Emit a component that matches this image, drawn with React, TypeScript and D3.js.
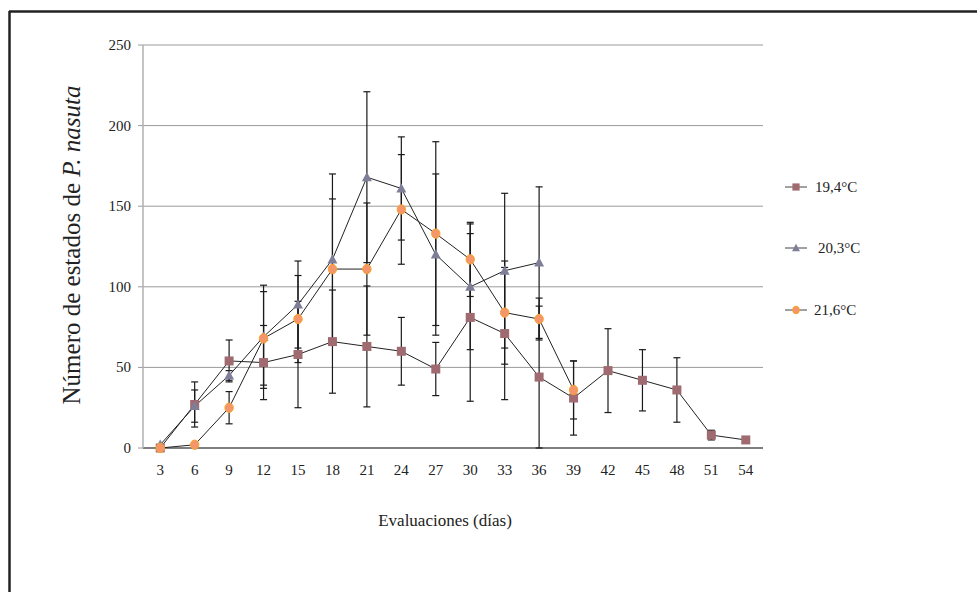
import React from "react";
import * as d3 from "d3";

const days = ["3","6","9","12","15","18","21","24","27","30","33","36","39","42","45","48","51","54"];
const s194 = [0,27,54,53,58,66,63,60,49,81,71,44,31,48,42,36,8,5];
const e194 = [0,14,13,23,33,32,37.5,21,16.5,52,41,44,23,26,19,20,3,1];
const s203 = [2,26,45,69,89,117,168,161,120,100,110,115];
const e203 = [0,10,3,32,27,53,53,32,50,39,48,47];
const s216 = [0,2,25,68,80,111,111,148,133,117,84,80,36];
const e216 = [0,0,10,29,27,43.5,41,34,57,23,32,13,18];
const yTicks = [0,50,100,150,200,250];
const seriesNames = ["19,4°C","20,3°C","21,6°C"];

const W = 977, H = 592;
const left = 143, right = 763, top = 45, bottom = 448;

export default function App() {
  const x = d3.scaleBand<string>().domain(days).range([left, right]).padding(0);
  const y = d3.scaleLinear().domain([0, 250]).range([bottom, top]);
  const cx = (i: number) => (x(days[i]) as number) + x.bandwidth() / 2;
  const line = d3.line<number>().x((_, i) => cx(i)).y(d => y(d));

  const series = [
    { vals: s194, errs: e194, kind: "square", fill: "#9f6a70", stroke: "#9f6a70" },
    { vals: s203, errs: e203, kind: "tri", fill: "#7e7e99", stroke: "#7e7e99" },
    { vals: s216, errs: e216, kind: "circle", fill: "#f5956a", stroke: "#f5a32a" },
  ];

  const marker = (kind: string, px: number, py: number, fill: string, stroke: string, key: string, sz = 1) => {
    if (kind === "square") return <rect key={key} x={px - 4.5 * sz} y={py - 4.5 * sz} width={9 * sz} height={9 * sz} fill={fill} />;
    if (kind === "tri") {
      const s = 5 * sz;
      return <path key={key} d={`M${px},${py - s * 1.05}L${px + s},${py + s * 0.8}L${px - s},${py + s * 0.8}Z`} fill={fill} />;
    }
    return <ellipse key={key} cx={px} cy={py} rx={4.2 * sz} ry={4.7 * sz} fill={fill} stroke={stroke} strokeWidth={1} />;
  };

  return (
    <svg width={W} height={H} style={{ display: "block", position: "absolute", left: 0, top: 0 }} fontFamily="'Liberation Serif', 'Times New Roman', serif">
      <rect x={0} y={0} width={W} height={H} fill="#fff" />
      {/* frame */}
      <line x1={9} y1={11.5} x2={W} y2={11.5} stroke="#222" strokeWidth={2.5} />
      <line x1={9.5} y1={11} x2={9.5} y2={H} stroke="#222" strokeWidth={2.5} />
      {/* grid */}
      {yTicks.map(t => (
        <g key={t}>
          <line x1={left} x2={right} y1={y(t)} y2={y(t)} stroke={t === 0 ? "#555" : "#9a9a9a"} strokeWidth={t === 0 ? 1.5 : 1} />
          <line x1={left - 5} x2={left} y1={y(t)} y2={y(t)} stroke="#9a9a9a" />
          <text x={131} y={y(t) + 5} textAnchor="end" fontSize={15} fill="#222">{t}</text>
        </g>
      ))}
      <line x1={left} x2={left} y1={top} y2={bottom} stroke="#b0b0b0" strokeWidth={1.5} />
      {days.map((d, i) => (
        <text key={d} x={cx(i)} y={475} textAnchor="middle" fontSize={15} fill="#222">{d}</text>
      ))}
      {/* error bars */}
      {series.map((s, si) => s.vals.map((v, i) => {
        const e = s.errs[i];
        if (!e) return null;
        const px = cx(i);
        const y1 = y(v + e), y2 = y(Math.max(0, v - e));
        return (
          <g key={`e${si}-${i}`} stroke="#1a1a1a" strokeWidth={1.2}>
            <line x1={px} x2={px} y1={y1} y2={y2} />
            <line x1={px - 3.5} x2={px + 3.5} y1={y1} y2={y1} />
            <line x1={px - 3.5} x2={px + 3.5} y1={y2} y2={y2} />
          </g>
        );
      }))}
      {/* lines */}
      {series.map((s, si) => (
        <path key={`l${si}`} d={line(s.vals) || ""} fill="none" stroke="#222" strokeWidth={1} />
      ))}
      {/* markers */}
      {series.map((s, si) => s.vals.map((v, i) => marker(s.kind, cx(i), y(v), s.fill, s.stroke, `m${si}-${i}`)))}
      {/* axis titles */}
      <text x={445} y={526} textAnchor="middle" fontSize={17} fill="#222">Evaluaciones (días)</text>
      <text transform="translate(80,245) rotate(-90)" textAnchor="middle" fontSize={25} fill="#222">
        Número de estados de <tspan fontStyle="italic">P. nasuta</tspan>
      </text>
      {/* legend */}
      {series.map((s, si) => {
        const ly = [187, 248, 310][si];
        return (
          <g key={`lg${si}`}>
            <line x1={785} x2={807} y1={ly} y2={ly} stroke="#444" strokeWidth={1} />
            {marker(s.kind, 796, ly, s.fill, s.stroke, `lm${si}`, 0.8)}
            <text x={[815, 818, 814][si]} y={ly + 5} fontSize={15} fill="#222">{seriesNames[si]}</text>
          </g>
        );
      })}
    </svg>
  );
}
